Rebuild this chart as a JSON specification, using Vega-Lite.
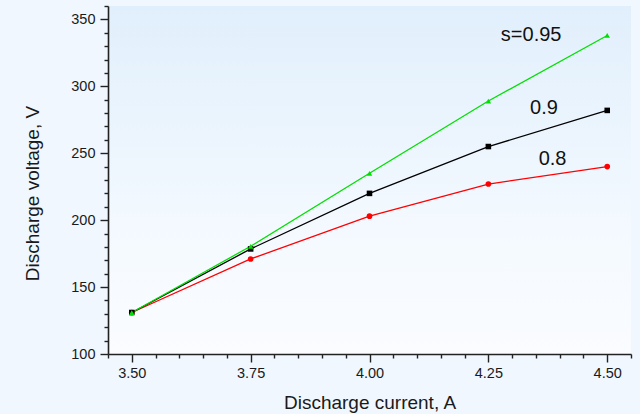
{
  "$schema": "https://vega.github.io/schema/vega-lite/v6.json",
  "width": 523,
  "height": 348,
  "autosize": {"type": "none"},
  "padding": {"left": 108, "top": 6, "right": 9, "bottom": 60},
  "background": "#f0f7fe",
  "config": {
    "view": {
      "stroke": null,
      "fill": {
        "gradient": "linear", "x1": 0, "y1": 0, "x2": 0, "y2": 1,
        "stops": [
          {"offset": 0, "color": "#e1effc"},
          {"offset": 0.7, "color": "#f5faff"},
          {"offset": 1, "color": "#fafcff"}
        ]
      }
    },
    "axis": {
      "labelFont": "Liberation Sans",
      "titleFont": "Liberation Sans",
      "labelFontSize": 14.5,
      "titleFontSize": 19,
      "titleFontWeight": "normal",
      "labelColor": "#1a1a1a",
      "titleColor": "#1a1a1a",
      "domainColor": "#222222",
      "tickColor": "#222222",
      "domainWidth": 1.6,
      "tickWidth": 1.4,
      "grid": false
    },
    "text": {"font": "Liberation Sans"}
  },
  "datasets": {
    "curves": [
      {"s": "0.8", "I": 3.5, "U": 131},
      {"s": "0.8", "I": 3.75, "U": 171},
      {"s": "0.8", "I": 4.0, "U": 203},
      {"s": "0.8", "I": 4.25, "U": 227},
      {"s": "0.8", "I": 4.5, "U": 240},
      {"s": "0.9", "I": 3.5, "U": 131},
      {"s": "0.9", "I": 3.75, "U": 178.5},
      {"s": "0.9", "I": 4.0, "U": 220},
      {"s": "0.9", "I": 4.25, "U": 255},
      {"s": "0.9", "I": 4.5, "U": 282},
      {"s": "0.95", "I": 3.5, "U": 131},
      {"s": "0.95", "I": 3.75, "U": 180.5},
      {"s": "0.95", "I": 4.0, "U": 235},
      {"s": "0.95", "I": 4.25, "U": 289},
      {"s": "0.95", "I": 4.5, "U": 338}
    ],
    "labels": [
      {"x": 4.34, "y": 338, "label": "s=0.95"},
      {"x": 4.367, "y": 284, "label": "0.9"},
      {"x": 4.385, "y": 246, "label": "0.8"}
    ]
  },
  "layer": [
    {
      "data": {"name": "curves"},
      "mark": {"type": "line", "strokeWidth": 1.3},
      "encoding": {
        "x": {
          "field": "I", "type": "quantitative",
          "scale": {"domain": [3.45, 4.55], "nice": false, "zero": false},
          "axis": {
            "orient": "bottom",
            "values": [3.45, 3.5, 3.55, 3.6, 3.65, 3.7, 3.75, 3.8, 3.85, 3.9, 3.95, 4.0, 4.05, 4.1, 4.15, 4.2, 4.25, 4.3, 4.35, 4.4, 4.45, 4.5, 4.55],
            "tickCount": 100,
            "labelExpr": "abs(datum.value*4 - round(datum.value*4)) < 0.001 ? format(datum.value, '.2f') : ''",
            "tickSize": {"condition": {"test": "abs(datum.value*4 - round(datum.value*4)) < 0.001", "value": 8}, "value": 4},
            "labelOverlap": false,
            "labelFlush": false,
            "labelPadding": 4,
            "title": "Discharge current, A",
            "titleY": 54,
            "titleBaseline": "alphabetic"
          }
        },
        "y": {
          "field": "U", "type": "quantitative",
          "scale": {"domain": [100, 360], "nice": false, "zero": false},
          "axis": {
            "orient": "left",
            "values": [100, 110, 120, 130, 140, 150, 160, 170, 180, 190, 200, 210, 220, 230, 240, 250, 260, 270, 280, 290, 300, 310, 320, 330, 340, 350, 360],
            "tickCount": 100,
            "labelExpr": "datum.value % 50 === 0 ? format(datum.value, 'd') : ''",
            "tickSize": {"condition": {"test": "datum.value % 50 === 0", "value": 8}, "value": 4},
            "labelOverlap": false,
            "labelFlush": false,
            "labelPadding": 5,
            "title": "Discharge voltage, V",
            "titleAngle": -90,
            "titleAlign": "center",
            "titleX": -69.4,
            "titleY": 187,
            "titleBaseline": "alphabetic"
          }
        },
        "color": {
          "field": "s", "type": "nominal",
          "scale": {"domain": ["0.8", "0.9", "0.95"], "range": ["#ff0000", "#000000", "#00e000"]},
          "legend": null
        }
      }
    },
    {
      "data": {"name": "curves"},
      "mark": {"type": "point", "filled": true, "opacity": 1, "strokeWidth": 0},
      "encoding": {
        "x": {"field": "I", "type": "quantitative"},
        "y": {"field": "U", "type": "quantitative"},
        "color": {
          "field": "s", "type": "nominal",
          "scale": {"domain": ["0.8", "0.9", "0.95"], "range": ["#ff0000", "#000000", "#00e000"]},
          "legend": null
        },
        "shape": {
          "field": "s", "type": "nominal",
          "scale": {"domain": ["0.8", "0.9", "0.95"], "range": ["circle", "square", "triangle-up"]},
          "legend": null
        },
        "size": {
          "field": "s", "type": "nominal",
          "scale": {"domain": ["0.8", "0.9", "0.95"], "range": [32, 30, 85]},
          "legend": null
        }
      }
    },
    {
      "data": {"name": "labels"},
      "mark": {"type": "text", "fontSize": 20, "align": "center", "baseline": "middle", "color": "#111111"},
      "encoding": {
        "x": {"field": "x", "type": "quantitative"},
        "y": {"field": "y", "type": "quantitative"},
        "text": {"field": "label", "type": "nominal"}
      }
    }
  ]
}
